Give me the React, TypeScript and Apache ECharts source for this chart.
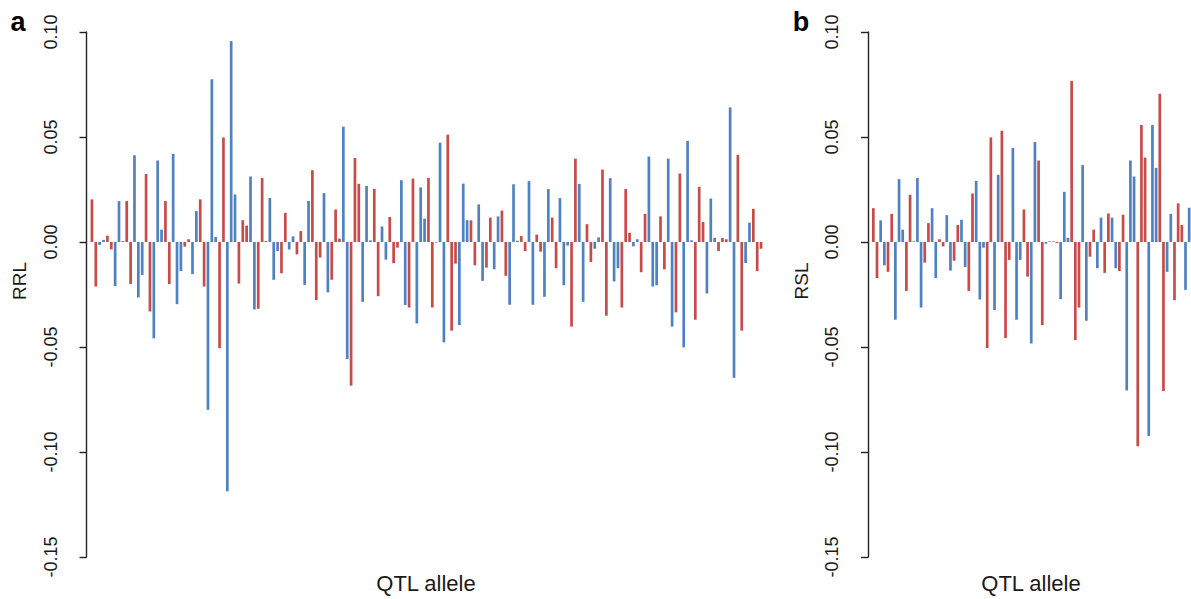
import React, { useEffect, useRef } from "react";
import * as echarts from "echarts";

// Panel a: RRL effect of each QTL allele (B = blue allele, R = red allele)
const rrlValues = [
  0.0203, -0.0212, -0.0014, 0.0010, 0.0030, -0.0035, -0.0210, 0.0195, 0.0005, 0.0195,
  -0.0200, 0.0413, -0.0264, -0.0157, 0.0324, -0.0331, -0.0459, 0.0388, 0.0059, 0.0195,
  -0.0200, 0.0420, -0.0296, -0.0138, -0.0022, 0.0013, -0.0153, 0.0147, 0.0203, -0.0212,
  -0.0799, 0.0775, 0.0024, -0.0506, 0.0498, -0.1187, 0.0957, 0.0226, -0.0198, 0.0104,
  0.0078, 0.0312, -0.0321, -0.0318, 0.0305, 0.0005, 0.0210, -0.0180, -0.0043, -0.0149,
  0.0139, -0.0036, 0.0027, -0.0059, 0.0052, -0.0204, 0.0195, 0.0342, -0.0277, -0.0074,
  0.0233, -0.0240, -0.0180, 0.0155, 0.0016, 0.0549, -0.0557, -0.0684, 0.0400, 0.0277,
  -0.0285, 0.0267, 0.0008, 0.0253, -0.0258, 0.0074, -0.0084, 0.0119, -0.0101, -0.0027,
  0.0294, -0.0300, -0.0312, 0.0302, -0.0388, 0.0260, 0.0111, 0.0305, -0.0312, -0.0003,
  0.0473, -0.0478, 0.0511, -0.0422, -0.0103, -0.0396, 0.0278, 0.0104, 0.0103, -0.0111,
  0.0179, -0.0185, -0.0122, 0.0116, -0.0130, 0.0122, 0.0150, -0.0161, -0.0299, 0.0275,
  0.0006, 0.0028, -0.0043, 0.0290, -0.0299, 0.0035, -0.0046, -0.0261, 0.0252, 0.0116,
  -0.0125, 0.0209, -0.0206, -0.0017, -0.0403, 0.0397, 0.0277, -0.0285, 0.0085, -0.0095,
  -0.0032, 0.0022, 0.0345, -0.0351, 0.0304, -0.0188, -0.0125, -0.0312, 0.0252, 0.0044,
  -0.0021, 0.0013, -0.0144, 0.0134, 0.0407, -0.0212, -0.0206, 0.0122, -0.0130, 0.0397,
  -0.0403, -0.0335, 0.0326, -0.0502, 0.0481, 0.0008, -0.0370, 0.0263, 0.0095, -0.0245,
  0.0207, 0.0020, -0.0043, 0.0019, 0.0013, 0.0641, -0.0647, 0.0415, -0.0422, -0.0100,
  0.0092, 0.0158, -0.0138, -0.0032,
];
const rrlAllele = (
  "RRBBRRBBBR" + "RBBBRRBBBR" + "RBBBRRBBRR" + "BBBRRBBBRR" + "RBBRRRBBBR" +
  "RBBRRBBRRR" + "BBRRRBBRRR" + "BBBRRBBRRR" + "BBRRBBBRRR" + "BBRRRBBBRR" +
  "BBRRBBRRBB" + "BRRBBRRBBR" + "RBBBRRBBRR" + "BBRRBBBRRR" + "BBRRBBBRRB" +
  "BRRBBBRRRB" + "BBRRRBBRRB" + "BRRR"
).split("");

// Panel b: RSL effect of each QTL allele
const rslValues = [
  0.0161, -0.0172, 0.0103, -0.0111, -0.0142, 0.0134, -0.0370, 0.0299, 0.0059, -0.0233,
  0.0225, 0.0003, 0.0305, -0.0312, -0.0098, 0.0090, 0.0161, -0.0172, 0.0013, -0.0021,
  0.0128, -0.0136, -0.0089, 0.0081, 0.0106, -0.0119, -0.0233, 0.0231, 0.0291, -0.0274,
  -0.0027, -0.0505, 0.0498, -0.0324, 0.0320, 0.0530, -0.0457, -0.0085, 0.0448, -0.0370,
  -0.0085, 0.0155, -0.0165, -0.0483, 0.0476, 0.0388, -0.0396, -0.0008, 0.0003, 0.0003,
  -0.0005, -0.0272, 0.0239, 0.0020, 0.0767, -0.0467, -0.0312, 0.0366, -0.0375, -0.0070,
  0.0059, -0.0125, 0.0116, -0.0147, 0.0136, 0.0116, -0.0125, -0.0138, 0.0130, -0.0707,
  0.0388, 0.0312, -0.0973, 0.0557, 0.0402, -0.0924, 0.0557, 0.0353, 0.0706, -0.0710,
  -0.0142, 0.0134, -0.0277, 0.0184, 0.0081, -0.0228, 0.0163,
];
const rslAllele = (
  "RRBBRRBBBR" + "RBBBRRBBRR" + "BBRRBBRRBB" + "BRRBBRRRBB" + "BRRBBRRBBR" +
  "RBBBRRRBBR" + "RBBRRBBRRB" + "BBRRRBBBRR" + "BBRRRBB"
).split("");

const yTicks = { min: -0.15, max: 0.1, interval: 0.05 };
const panelLetters = ["a", "b"];
const yNames = ["RRL", "RSL"];
const xName = "QTL allele";

const BLUE = "#4f82c3";
const RED = "#c94b47";
const FONT = "'Liberation Sans', Arial, Helvetica, sans-serif";

export default function App() {
  const ref = useRef<HTMLDivElement>(null);

  useEffect(() => {
    if (!ref.current) return;
    const chart = echarts.init(ref.current, null, { renderer: "svg" });

    const grids = [
      { left: 90, top: 32, width: 673, height: 525 },
      { left: 871.5, top: 32, width: 319.7, height: 525 },
    ];
    const panels = [
      { values: rrlValues, allele: rrlAllele },
      { values: rslValues, allele: rslAllele },
    ];

    const xAxis = panels.map((p, i) => ({
      type: "category",
      gridIndex: i,
      data: p.values.map((_, k) => String(k + 1)),
      show: false,
      boundaryGap: true,
    }));

    const yAxis = panels.map((_, i) => ({
      type: "value",
      gridIndex: i,
      min: yTicks.min,
      max: yTicks.max,
      interval: yTicks.interval,
      offset: 3.5,
      splitLine: { show: false },
      axisLine: { show: true, lineStyle: { color: "#222", width: 1.4 } },
      axisTick: { show: true, inside: false, length: 7, lineStyle: { color: "#222", width: 1.4 } },
      axisLabel: {
        rotate: 90,
        margin: 27,
        fontSize: 18,
        color: "#1a1a1a",
        fontFamily: FONT,
        formatter: (v: number) => v.toFixed(2),
      },
    }));

    const series: any[] = [];
    panels.forEach((p, i) => {
      series.push({
        type: "bar",
        xAxisIndex: i,
        yAxisIndex: i,
        barWidth: 2.7,
        barGap: "-100%",
        itemStyle: { color: BLUE },
        data: p.values.map((v, k) => (p.allele[k] === "B" ? v : null)),
      });
      series.push({
        type: "bar",
        xAxisIndex: i,
        yAxisIndex: i,
        barWidth: 2.7,
        barGap: "-100%",
        itemStyle: { color: RED },
        data: p.values.map((v, k) => (p.allele[k] === "R" ? v : null)),
      });
    });

    const graphic: any[] = [];
    const letterX = [18, 801];
    const nameX = [19, 801];
    const xNameX = [426, 1031];
    [0, 1].forEach((i) => {
      graphic.push({
        type: "text",
        x: letterX[i],
        y: 22,
        style: {
          text: panelLetters[i],
          font: `bold 27px ${FONT}`,
          fill: "#000",
          textAlign: "center",
          textVerticalAlign: "middle",
        },
      });
      graphic.push({
        type: "text",
        x: nameX[i],
        y: 281,
        rotation: Math.PI / 2,
        style: {
          text: yNames[i],
          font: `19px ${FONT}`,
          fill: "#1a1a1a",
          textAlign: "center",
          textVerticalAlign: "middle",
        },
      });
      graphic.push({
        type: "text",
        x: xNameX[i],
        y: 583,
        style: {
          text: xName,
          font: `22px ${FONT}`,
          fill: "#1a1a1a",
          textAlign: "center",
          textVerticalAlign: "middle",
        },
      });
    });

    chart.setOption({
      animation: false,
      backgroundColor: "#fff",
      grid: grids,
      xAxis,
      yAxis,
      series,
      graphic,
    });

    return () => chart.dispose();
  }, []);

  return (
    <div
      ref={ref}
      style={{ position: "fixed", left: 0, top: 0, width: 1191, height: 599, background: "#fff" }}
    />
  );
}
